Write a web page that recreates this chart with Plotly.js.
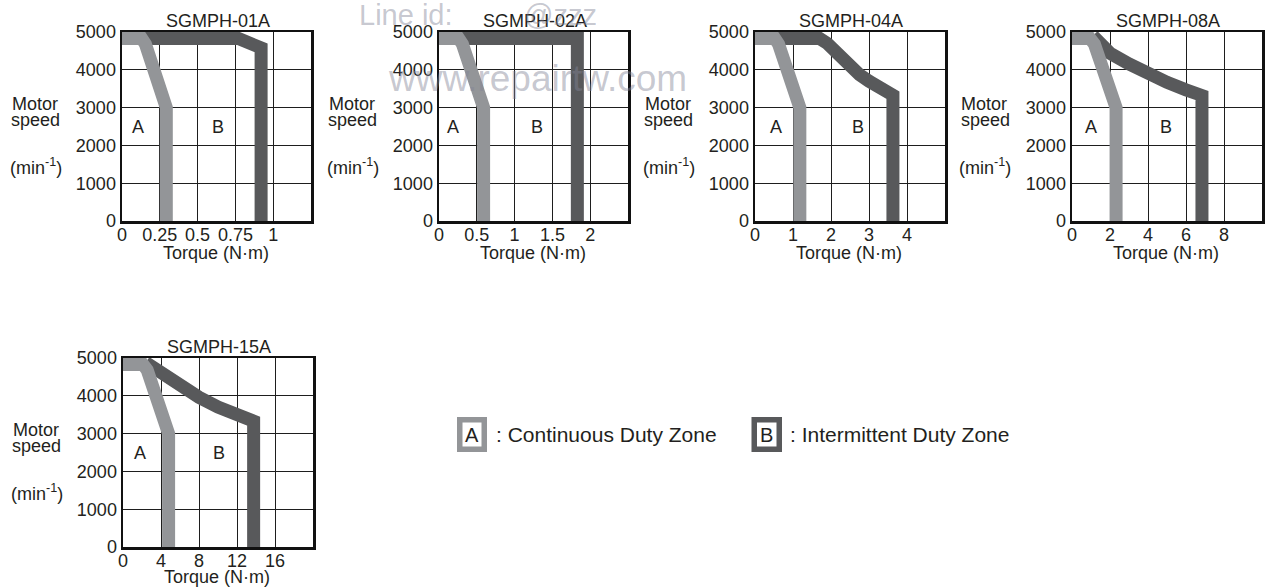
<!DOCTYPE html>
<html>
<head>
<meta charset="utf-8">
<script src="https://cdn.plot.ly/plotly-3.0.1.min.js"></script>
<style>
html,body{margin:0;padding:0;background:#fff;}
#chart{width:1269px;height:587px;}
</style>
</head>
<body>
<div id="chart"></div>
<script>
// ---------------- data ----------------
const models = ['SGMPH-01A', 'SGMPH-02A', 'SGMPH-04A', 'SGMPH-08A', 'SGMPH-15A'];
const torqueMax = [1.25, 2.5, 5, 10, 20];
const speedTicks = [0, 1000, 2000, 3000, 4000, 5000];
const torqueTicks = [
  [0, 0.25, 0.5, 0.75, 1],
  [0, 0.5, 1, 1.5, 2],
  [0, 1, 2, 3, 4],
  [0, 2, 4, 6, 8],
  [0, 4, 8, 12, 16]
];
const torqueTickText = [
  ['0', '0.25', '0.5', '0.75', '1'],
  ['0', '0.5', '1', '1.5', '2'],
  ['0', '1', '2', '3', '4'],
  ['0', '2', '4', '6', '8'],
  ['0', '4', '8', '12', '16']
];

// A : continuous duty zone boundary (torque N·m, speed min-1)
const contTorque01 = [0, 0.13, 0.155, 0.175, 0.207, 0.25, 0.293, 0.293];
const contSpeed01  = [4830, 4830, 4680, 4400, 4000, 3500, 3000, 0];
const contTorque02 = [0, 0.26, 0.31, 0.35, 0.42, 0.5, 0.59, 0.59];
const contSpeed02  = [4830, 4830, 4680, 4400, 4000, 3500, 3000, 0];
const contTorque04 = [0, 0.52, 0.62, 0.7, 0.82, 1.0, 1.18, 1.18];
const contSpeed04  = [4830, 4830, 4680, 4400, 4000, 3500, 3000, 0];
const contTorque08 = [0, 0.95, 1.18, 1.36, 1.67, 2.0, 2.32, 2.32];
const contSpeed08  = [4830, 4830, 4680, 4400, 4000, 3500, 3000, 0];
const contTorque15 = [0, 2.1, 2.55, 2.9, 3.5, 4.2, 4.8, 4.8];
const contSpeed15  = [4830, 4830, 4680, 4400, 4000, 3500, 3000, 0];

// B : intermittent duty zone boundary
const interTorque01 = [0.14, 0.77, 0.92, 0.92];
const interSpeed01  = [4830, 4830, 4580, 0];
const interTorque02 = [0.27, 1.83, 1.83];
const interSpeed02  = [4830, 4830, 0];
const interTorque04 = [0.55, 1.7, 1.9, 2.1, 2.3, 2.5, 2.75, 3.0, 3.3, 3.63, 3.63];
const interSpeed04  = [4830, 4830, 4700, 4480, 4250, 4050, 3870, 3700, 3500, 3330, 0];
const interTorque08 = [1.1, 1.4, 2, 3, 4, 5, 6, 6.84, 6.84];
const interSpeed08  = [4900, 4740, 4440, 4155, 3885, 3668, 3470, 3320, 0];
const interTorque15 = [2.4, 4, 6, 8, 10, 12, 13.75, 13.75];
const interSpeed15  = [4880, 4600, 4250, 3960, 3700, 3480, 3330, 0];

const contTorque = [contTorque01, contTorque02, contTorque04, contTorque08, contTorque15];
const contSpeed  = [contSpeed01, contSpeed02, contSpeed04, contSpeed08, contSpeed15];
const interTorque = [interTorque01, interTorque02, interTorque04, interTorque08, interTorque15];
const interSpeed  = [interSpeed01, interSpeed02, interSpeed04, interSpeed08, interSpeed15];

const zoneLabels = ['A', 'B'];
const legendTexts = [': Continuous Duty Zone', ': Intermittent Duty Zone'];

// ---------------- layout ----------------
const W = 1269, H = 587;
const px = v => v / W;
const py = v => 1 - v / H;
const FONT = 'Liberation Sans, Arial, Helvetica, sans-serif';
const TXT = '#231f20';
const LIGHT = '#939598';
const DARK = '#58595b';

// plot boxes in pixels [left, top, right, bottom]
const boxes = [
  [122, 32, 311, 221],
  [439, 32, 628, 221],
  [755, 32, 945, 221],
  [1072, 32, 1262, 221],
  [123, 358, 313, 547]
];
const labelAx = [0.085, 0.075, 0.11, 0.10, 0.09];
const labelBx = [0.51, 0.52, 0.54, 0.495, 0.505];

const traces = [];
const layout = {
  width: W, height: H,
  margin: {l: 0, r: 0, t: 0, b: 0},
  paper_bgcolor: '#fff', plot_bgcolor: '#fff',
  showlegend: false,
  font: {family: FONT, size: 18, color: TXT},
  annotations: [],
  shapes: []
};

models.forEach((m, i) => {
  const n = i + 1;
  const xs = n === 1 ? '' : String(n);
  const b = boxes[i];
  const xa = 'x' + xs, ya = 'y' + xs;

  traces.push({
    type: 'scatter', mode: 'lines', x: interTorque[i], y: interSpeed[i],
    xaxis: xa, yaxis: ya, line: {color: DARK, width: 13}, hoverinfo: 'skip'
  });
  traces.push({
    type: 'scatter', mode: 'lines', x: contTorque[i], y: contSpeed[i],
    xaxis: xa, yaxis: ya, line: {color: LIGHT, width: 13}, hoverinfo: 'skip'
  });

  const common = {
    showgrid: true, gridcolor: '#1e1e1e', gridwidth: 1,
    zeroline: false, showline: true, mirror: true,
    linecolor: '#111', linewidth: 2.5, ticks: '',
    tickfont: {family: FONT, size: 18, color: TXT},
    fixedrange: true
  };
  layout['xaxis' + xs] = Object.assign({}, common, {
    domain: [px(b[0]), px(b[2])],
    range: [0, torqueMax[i]],
    tickmode: 'array', tickvals: torqueTicks[i], ticktext: torqueTickText[i],
    tickangle: 0, anchor: ya, ticklabelstandoff: -4
  });
  layout['yaxis' + xs] = Object.assign({}, common, {
    domain: [py(b[3]), py(b[1])],
    range: [0, 5000],
    tickmode: 'array', tickvals: speedTicks, ticktext: speedTicks.map(String),
    anchor: xa
  });

  const cx = (b[0] + b[2]) / 2;
  const ann = (text, x, y, size, extra) => layout.annotations.push(Object.assign({
    text, x: px(x), y: py(y), xref: 'paper', yref: 'paper',
    xanchor: 'center', yanchor: 'middle', showarrow: false,
    font: {family: FONT, size: size, color: TXT}
  }, extra || {}));

  ann(m, cx + 1, b[1] - 11, 18);
  ann('Torque (N·m)', cx - 1, b[3] + (i === 4 ? 30 : 32), 18);
  ann('Motor', b[0] - 87.5, b[1] + 72, 18);
  ann('speed', b[0] - 87, b[1] + 88, 18);
  ann('(min<sup>-1</sup>)', b[0] - 86.5, b[1] + 134, 18);

  layout.annotations.push({
    text: zoneLabels[0], xref: xa + ' domain', yref: ya, x: labelAx[i], y: 2500,
    xanchor: 'center', yanchor: 'middle', showarrow: false,
    font: {family: FONT, size: 18, color: TXT}
  });
  layout.annotations.push({
    text: zoneLabels[1], xref: xa + ' domain', yref: ya, x: labelBx[i], y: 2500,
    xanchor: 'center', yanchor: 'middle', showarrow: false,
    font: {family: FONT, size: 18, color: TXT}
  });
});

// legend boxes
const legBoxes = [[457, 417, 487, 452], [751.5, 417, 782, 452]];
const legColors = [LIGHT, DARK];
const legTextX = [494, 788];
legBoxes.forEach((lb, k) => {
  const bw = 5.5;
  layout.shapes.push({
    type: 'rect', xref: 'paper', yref: 'paper',
    x0: px(lb[0] + bw / 2), x1: px(lb[2] - bw / 2),
    y0: py(lb[3] - bw / 2), y1: py(lb[1] + bw / 2),
    line: {color: legColors[k], width: bw}, fillcolor: '#fff'
  });
  layout.annotations.push({
    text: zoneLabels[k], xref: 'paper', yref: 'paper',
    x: px((lb[0] + lb[2]) / 2), y: py((lb[1] + lb[3]) / 2),
    xanchor: 'center', yanchor: 'middle', showarrow: false,
    font: {family: FONT, size: 20, color: TXT}
  });
  layout.annotations.push({
    text: legendTexts[k], xref: 'paper', yref: 'paper',
    x: px(legTextX[k]), y: py((lb[1] + lb[3]) / 2),
    xanchor: 'left', yanchor: 'middle', showarrow: false,
    font: {family: FONT, size: 21, color: TXT}
  });
});

// watermark
const WM = 'rgba(130,132,150,0.45)';
[['Line id:', 357, 15, 29], ['@zzz', 522, 15, 29], ['www.repairtw.com', 386, 78, 37]].forEach(w => {
  layout.annotations.push({
    text: w[0], xref: 'paper', yref: 'paper', x: px(w[1]), y: py(w[2]),
    xanchor: 'left', yanchor: 'middle', showarrow: false,
    font: {family: FONT, size: w[3], color: WM}
  });
});

Plotly.newPlot('chart', traces, layout, {displayModeBar: false, staticPlot: true});
</script>
</body>
</html>
